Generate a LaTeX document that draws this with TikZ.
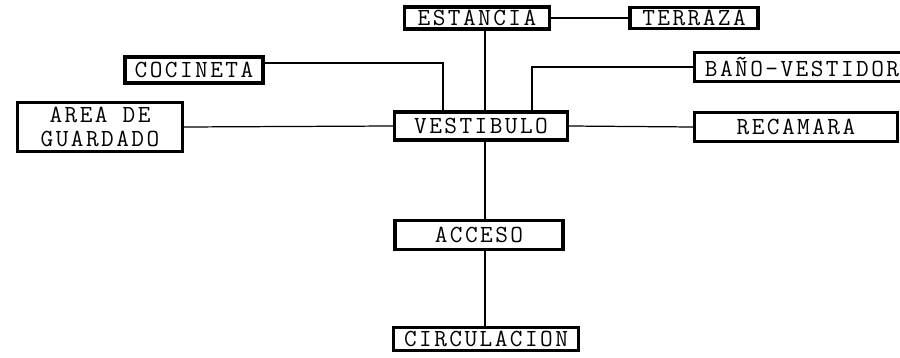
\documentclass[tikz,border=0pt]{standalone}
\usepackage{fontspec}
\setmonofont[LetterSpace=10]{Latin Modern Mono}
\usetikzlibrary{positioning,calc}

\begin{document}
\begin{tikzpicture}[
    x=0.02cm, y=-0.02cm,
    room/.style={rectangle, draw, line width=1.8pt, inner sep=0pt, align=center, font=\ttfamily\fontsize{14}{14}\selectfont},
    link/.style={line width=0.7pt},
    spine/.style={line width=1.1pt}
]
\useasboundingbox (0,0) rectangle (900,358);

% rooms
\node[room, minimum width=2.9cm, minimum height=0.44cm] (estancia) at (477,18) {ESTANCIA};
\node[room, minimum width=2.56cm, minimum height=0.42cm] (terraza) at (694,18) {TERRAZA};
\node[room, minimum width=2.76cm, minimum height=0.52cm] (cocineta) at (194,70) {COCINETA};
\node[room, minimum width=4.3cm, minimum height=0.58cm] (bano) at (802,67) {BAÑO-VESTIDOR};
\node[room, minimum width=3.3cm, minimum height=0.98cm] (area) at (100,127) {AREA DE\\GUARDADO};
\node[room, minimum width=3.46cm, minimum height=0.56cm] (vestibulo) at (481,126) {VESTIBULO};
\node[room, minimum width=4.06cm, minimum height=0.58cm] (recamara) at (796,127) {RECAMARA};
\node[room, minimum width=3.36cm, minimum height=0.58cm] (acceso) at (479,235) {ACCESO};
\node[room, minimum width=3.7cm, minimum height=0.46cm] (circulacion) at (486,339) {CIRCULACION};

% helper points
\coordinate (spinex) at (485,0);
\coordinate (cocdrop) at (443,112);
\coordinate (banodrop) at (532,112);

% connectors
\draw[link] (estancia.east) -- (terraza.west);
\draw[link] ([yshift=0.14cm]cocineta.east) -| (cocdrop);
\draw[link] (bano.west) -| (banodrop);
\draw[link] (area.east) -- (vestibulo.west);
\draw[link] (vestibulo.east) -- (recamara.west);
\draw[spine] (estancia.south -| spinex) -- (vestibulo.north -| spinex);
\draw[spine] (vestibulo.south -| spinex) -- (acceso.north -| spinex);
\draw[spine] (acceso.south -| spinex) -- (circulacion.north -| spinex);

\end{tikzpicture}
\end{document}
